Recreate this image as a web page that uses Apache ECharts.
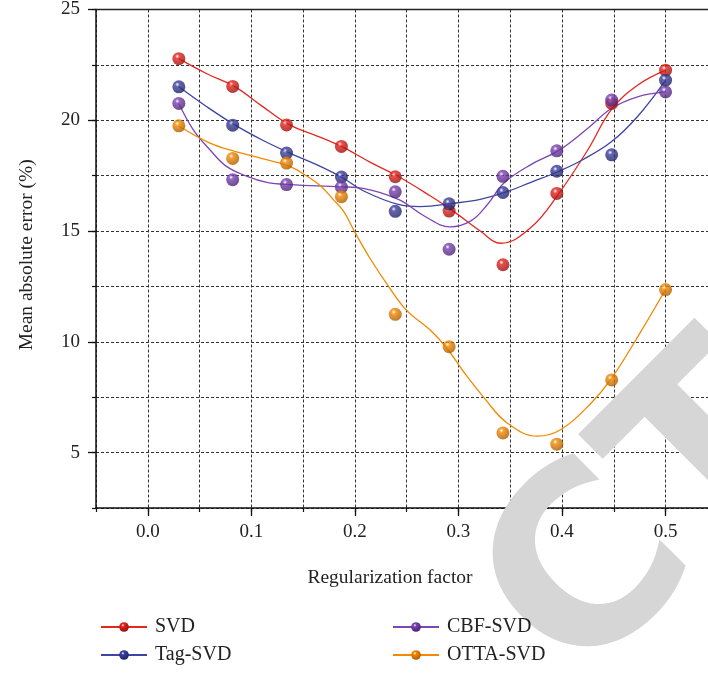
<!DOCTYPE html>
<html>
<head>
<meta charset="utf-8">
<script src="https://cdn.jsdelivr.net/npm/echarts@6/dist/echarts.min.js"></script>
<style>
  html, body { margin: 0; padding: 0; background: #fff; }
  #main { width: 708px; height: 673px; }
</style>
</head>
<body>
<div id="main"></div>
<script>
// 数据
let names = ['SVD', 'Tag-SVD', 'CBF-SVD', 'OTTA-SVD']
let factors = [0.03, 0.082, 0.134, 0.187, 0.239, 0.291, 0.343, 0.395, 0.448, 0.5]

let svdPoints = [22.78, 21.53, 19.79, 18.82, 17.45, 15.9, 13.48, 16.7, 20.76, 22.26]
let tagPoints = [21.51, 19.78, 18.52, 17.44, 15.89, 16.23, 16.74, 17.7, 18.44, 21.81]
let cbfPoints = [20.76, 17.32, 17.1, 16.98, 16.77, 14.18, 17.47, 18.62, 20.91, 21.28]
let ottaPoints = [19.75, 18.28, 18.07, 16.55, 11.24, 9.78, 5.89, 5.38, 8.28, 12.36]

// 拟合曲线
let svdCurveX = [0.03, 0.057, 0.084, 0.11, 0.137, 0.163, 0.187, 0.215, 0.242, 0.273, 0.295, 0.321, 0.341, 0.37, 0.397, 0.425, 0.448, 0.473, 0.5]
let svdCurveY = [22.78, 22.1, 21.52, 20.65, 19.79, 19.3, 18.82, 18.1, 17.46, 16.58, 15.9, 15.0, 14.45, 15.16, 16.7, 18.67, 20.5, 21.58, 22.26]
let tagCurveX = [0.03, 0.057, 0.084, 0.11, 0.137, 0.163, 0.187, 0.208, 0.242, 0.263, 0.295, 0.321, 0.344, 0.37, 0.397, 0.42, 0.448, 0.473, 0.5]
let tagCurveY = [21.51, 20.61, 19.79, 19.12, 18.52, 18.0, 17.44, 16.82, 16.2, 16.1, 16.25, 16.43, 16.73, 17.2, 17.7, 18.22, 19.04, 20.17, 21.8]
let cbfCurveX = [0.03, 0.044, 0.06, 0.076, 0.096, 0.115, 0.137, 0.187, 0.208, 0.242, 0.267, 0.292, 0.312, 0.328, 0.344, 0.37, 0.397, 0.425, 0.448, 0.473, 0.5]
let cbfCurveY = [20.76, 19.57, 18.67, 17.92, 17.47, 17.2, 17.1, 17.0, 16.93, 16.43, 15.68, 15.19, 15.46, 16.2, 17.17, 18.0, 18.64, 19.64, 20.54, 21.06, 21.28]
let ottaCurveX = [0.03, 0.06, 0.084, 0.108, 0.137, 0.154, 0.167, 0.179, 0.189, 0.2, 0.215, 0.233, 0.25, 0.273, 0.289, 0.305, 0.325, 0.347, 0.376, 0.399, 0.428, 0.448, 0.476, 0.5]
let ottaCurveY = [19.74, 18.97, 18.6, 18.3, 17.92, 17.47, 17.03, 16.43, 15.9, 14.95, 13.74, 12.47, 11.42, 10.52, 9.7, 8.65, 7.46, 6.34, 5.74, 6.04, 7.23, 8.36, 10.45, 12.36]

let majorX = [0, 0.1, 0.2, 0.3, 0.4, 0.5]
let majorY = [5, 10, 15, 20, 25]

let points = [svdPoints, tagPoints, cbfPoints, ottaPoints]
let curvesX = [svdCurveX, tagCurveX, cbfCurveX, ottaCurveX]
let curvesY = [svdCurveY, tagCurveY, cbfCurveY, ottaCurveY]

let lineColors = ['#e4281f', '#3e44a2', '#7c46b4', '#f28900']
let ballColors = ['#e5221c', '#3c3f9e', '#7a41b3', '#f38a00']
let ballDark = ['#8e0d0a', '#1c1d5c', '#45206b', '#a55400']

let font = 'Liberation Serif'

function ball(i) {
  return {
    type: 'radial', x: 0.38, y: 0.32, r: 0.75,
    colorStops: [
      { offset: 0, color: '#ffffff' },
      { offset: 0.22, color: ballColors[i] },
      { offset: 1, color: ballDark[i] }
    ]
  }
}

let series = []
names.forEach((name, i) => {
  series.push({
    name: name,
    type: 'line',
    smooth: 0.4,
    symbol: 'circle',
    symbolSize: 12,
    showSymbol: false,
    itemStyle: { color: ball(i) },
    lineStyle: { color: lineColors[i], width: 1.3 },
    data: curvesX[i].map((x, k) => [x, curvesY[i][k]]),
    z: 2
  })
})
names.forEach((name, i) => {
  series.push({
    name: name,
    type: 'scatter',
    symbol: 'circle',
    symbolSize: 13,
    itemStyle: { color: ball(i) },
    data: factors.map((x, k) => [x, points[i][k]]),
    z: 3
  })
})

let myChart = echarts.init(document.getElementById('main'))

let gridLine = { show: true, lineStyle: { color: '#333', type: [3, 2], width: 1 } }

let option = {
  animation: false,
  backgroundColor: '#fff',
  grid: { left: 96, top: 7, right: 0, bottom: 165 },
  graphic: [{
    type: 'text',
    x: 618, y: 730,
    rotation: Math.PI / 4,
    z: 1,
    silent: true,
    style: {
      text: 'CTED',
      font: 'bold 245px "DejaVu Sans"',
      fill: '#d6d6d6',
      textAlign: 'left',
      textVerticalAlign: 'bottom'
    }
  }],
  xAxis: [{
    type: 'value',
    min: -0.05, max: 0.541, interval: 0.05,
    name: 'Regularization factor',
    nameLocation: 'middle',
    nameGap: 60,
    nameTextStyle: { fontFamily: font, fontSize: 19.5, color: '#222', padding: [0, 24, 0, 0] },
    axisLine: { onZero: false, lineStyle: { color: '#111', width: 1.5 } },
    axisTick: { length: 4, lineStyle: { color: '#111', width: 1.2 } },
    axisLabel: {
      margin: 15,
      fontFamily: font, fontSize: 19, color: '#222',
      showMaxLabel: false,
      formatter: v => {
        let t = Math.round(v * 100)
        return (t >= 0 && t <= 50 && t % 10 === 0) ? (t / 100).toFixed(1) : ''
      }
    },
    splitLine: gridLine
  }, {
    type: 'value',
    position: 'bottom',
    min: -0.05, max: 0.541, interval: 0.05,
    axisLine: { show: false, onZero: false },
    axisTick: { length: 8, customValues: majorX, lineStyle: { color: '#111', width: 1.3 } },
    axisLabel: { show: false },
    splitLine: { show: false }
  }, {
    type: 'value',
    position: 'top',
    min: -0.05, max: 0.541,
    axisLine: { show: true, onZero: false, lineStyle: { color: '#222', width: 1.3 } },
    axisTick: { show: false },
    axisLabel: { show: false },
    splitLine: { show: false }
  }],
  yAxis: [{
    type: 'value',
    min: 2.5, max: 25, interval: 2.5,
    name: 'Mean absolute error (%)',
    nameLocation: 'middle',
    nameGap: 59,
    nameTextStyle: { fontFamily: font, fontSize: 19.5, color: '#222', padding: [0, 0, 0, 8] },
    axisLine: { show: true, onZero: false, lineStyle: { color: '#111', width: 1.5 } },
    axisTick: { show: true, length: 4, lineStyle: { color: '#111', width: 1.2 } },
    axisLabel: {
      margin: 16,
      fontFamily: font, fontSize: 19, color: '#222',
      formatter: v => (Math.round(v * 10) % 50 === 0 ? String(v) : '')
    },
    splitLine: gridLine
  }, {
    type: 'value',
    position: 'left',
    min: 2.5, max: 25, interval: 2.5,
    axisLine: { show: false, onZero: false },
    axisTick: { show: true, length: 8, customValues: majorY, lineStyle: { color: '#111', width: 1.3 } },
    axisLabel: { show: false },
    splitLine: { show: false }
  }],
  legend: [{
    data: ['SVD', 'Tag-SVD'],
    orient: 'vertical',
    left: 95, top: 611,
    itemWidth: 46, itemHeight: 12, itemGap: 6,
    textStyle: { fontFamily: font, fontSize: 20, color: '#222', lineHeight: 22, padding: [0, 0, 0, 3] }
  }, {
    data: ['CBF-SVD', 'OTTA-SVD'],
    orient: 'vertical',
    left: 387, top: 611,
    itemWidth: 46, itemHeight: 12, itemGap: 6,
    textStyle: { fontFamily: font, fontSize: 20, color: '#222', lineHeight: 22, padding: [0, 0, 0, 3] }
  }],
  series: series
}

myChart.setOption(option)
</script>
</body>
</html>
